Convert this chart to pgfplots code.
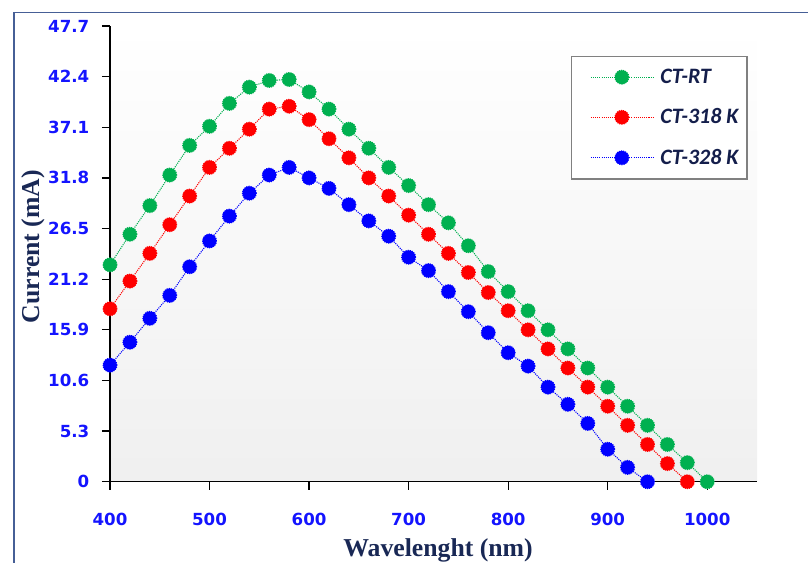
\documentclass[border=0pt]{standalone}
\usepackage{fontspec}
\setmainfont{Liberation Serif}
\newfontfamily\tickfont{DejaVu Sans}
\newfontfamily\legfont{Carlito}
\usepackage{pgfplots}
\pgfplotsset{compat=1.18}
\definecolor{cgreen}{RGB}{0,176,80}
\definecolor{cred}{RGB}{255,0,0}
\definecolor{cblue}{RGB}{0,0,255}
\definecolor{tickblue}{RGB}{20,20,255}
\definecolor{navy}{RGB}{25,40,85}
\definecolor{legnavy}{RGB}{20,30,75}
\definecolor{framec}{RGB}{70,95,150}
\begin{document}
\begin{tikzpicture}[x=0.75pt,y=0.75pt]
\useasboundingbox (0,0) rectangle (808,562);
\draw[framec, line width=1.3pt] (14,-5) -- (14,549.5) -- (815,549.5);
\begin{axis}[
  at={(82.5pt,60.2pt)}, anchor=south west,
  scale only axis, width=485.25pt, height=341.8pt,
  xmin=400, xmax=1050, ymin=0, ymax=47.7,
  axis x line*=bottom, axis y line*=left,
  axis line style={black, line width=0.9pt},
  tick style={black, line width=0.9pt},
  tick align=outside, major tick length=6pt,
  xtick={400,500,600,700,800,900,1000},
  ytick={0,5.3,10.6,15.9,21.2,26.5,31.8,37.1,42.4,47.7},
  yticklabels={0,5.3,10.6,15.9,21.2,26.5,31.8,37.1,42.4,47.7},
  xticklabels={400,500,600,700,800,900,1000},
  ticklabel style={font=\tickfont\bfseries\fontsize{12.5}{12.5}\selectfont, text=tickblue},
  xticklabel style={yshift=-14pt},
  yticklabel style={xshift=-6pt},
  axis background/.style={top color=white, bottom color=black!6},
  xlabel={Wavelenght (nm)},
  ylabel={Current (mA)},
  label style={font=\bfseries\fontsize{19.3}{19.3}\selectfont, text=navy},
  xlabel style={at={(rel axis cs:0.507,0)}, anchor=center, yshift=-51.4pt},
  ylabel style={at={(rel axis cs:-0.119,0.516)}, anchor=center},
  legend style={at={(rel axis cs:0.712,0.935)}, anchor=north west,
    draw=black!50, line width=1pt, fill=white,
    font=\legfont\bfseries\itshape\fontsize{16.5}{16.5}\selectfont, text=legnavy,
    inner xsep=4.5pt, inner ysep=7.5pt, row sep=13.5pt,
    cells={anchor=west}},
  legend image code/.code={\path (0pt,0pt) (59.5pt,0pt); \draw[#1, mark repeat=2, mark phase=2] plot coordinates {(9.75pt,0pt) (33pt,0pt) (56.25pt,0pt)};},
  every axis plot/.append style={line width=0.8pt, dash pattern=on 0.8pt off 0.8pt, mark=*, mark size=5.2pt, mark options={solid}},
]
\addplot[cgreen, mark options={fill=cgreen, draw=cgreen}] coordinates {
(400,22.7) (420,25.9) (440,28.9) (460,32.1) (480,35.2) (500,37.2) (520,39.6) (540,41.3) (560,42.0) (580,42.1)
(600,40.8) (620,39.0) (640,36.9) (660,34.9) (680,32.9) (700,31.0) (720,29.0) (740,27.1) (760,24.7) (780,22.0)
(800,19.9) (820,17.9) (840,15.9) (860,13.9) (880,11.9) (900,9.9) (920,7.9) (940,5.9) (960,3.9) (980,2.0) (1000,0)};
\addlegendentry{CT-RT}
\addplot[cred, mark options={fill=cred, draw=cred}] coordinates {
(400,18.1) (420,21.0) (440,23.9) (460,26.9) (480,29.9) (500,32.9) (520,34.9) (540,36.9) (560,39.0) (580,39.3)
(600,37.9) (620,35.9) (640,33.9) (660,31.8) (680,29.9) (700,27.9) (720,25.9) (740,23.9) (760,21.9) (780,19.8)
(800,17.9) (820,15.9) (840,13.9) (860,11.9) (880,9.9) (900,7.9) (920,5.9) (940,3.9) (960,1.9) (980,0)};
\addlegendentry{CT-318 K}
\addplot[cblue, mark options={fill=cblue, draw=cblue}] coordinates {
(400,12.2) (420,14.6) (440,17.1) (460,19.5) (480,22.5) (500,25.2) (520,27.8) (540,30.2) (560,32.1) (580,32.9)
(600,31.8) (620,30.7) (640,29.0) (660,27.3) (680,25.7) (700,23.5) (720,22.1) (740,19.9) (760,17.8) (780,15.6)
(800,13.5) (820,12.1) (840,9.9) (860,8.1) (880,6.1) (900,3.4) (920,1.5) (940,0)};
\addlegendentry{CT-328 K}
\end{axis}
\end{tikzpicture}
\end{document}
